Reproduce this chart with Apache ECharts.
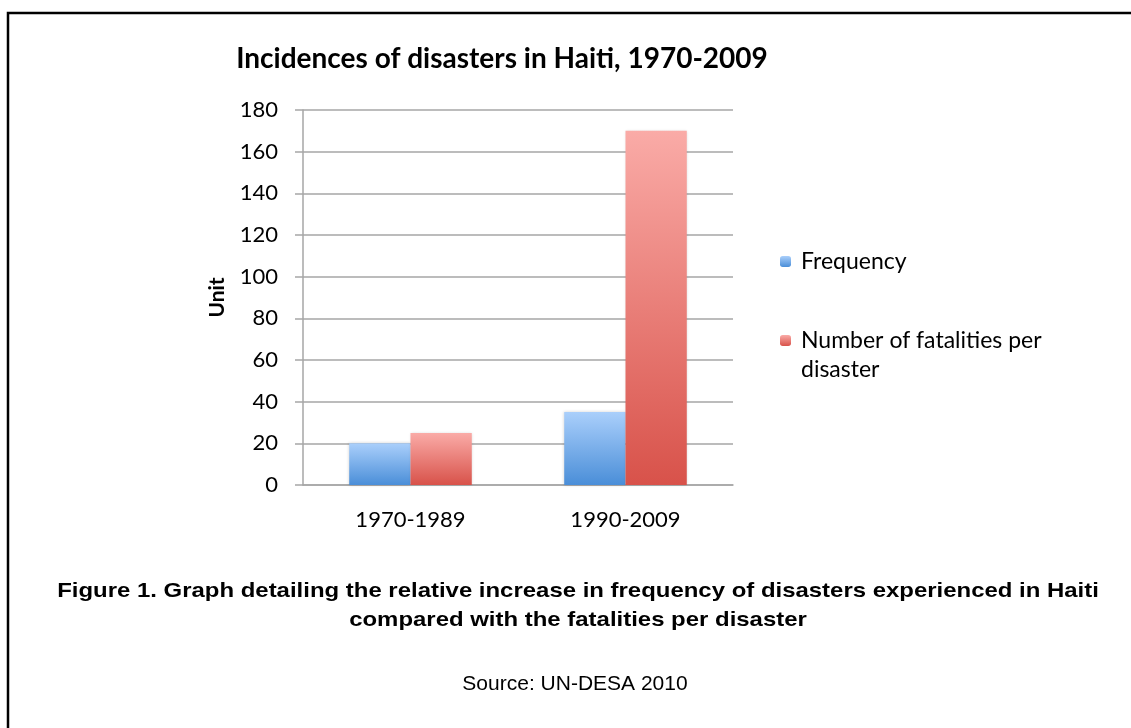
<!DOCTYPE html>
<html>
<head>
<meta charset="utf-8">
<script src="https://cdn.jsdelivr.net/npm/echarts@6/dist/echarts.min.js"></script>
<style>
  html, body { margin: 0; padding: 0; background: #fff; }
  #chart { width: 1131px; height: 728px; }
</style>
</head>
<body>
<div id="chart"></div>
<script>
// data
const periods = ['1970-1989', '1990-2009'];
const frequency = [20, 35];
const fatalitiesPerDisaster = [25, 170];
const seriesNames = ['Frequency', 'Number of fatalities per disaster'];

const chart = echarts.init(document.getElementById('chart'), null, { renderer: 'canvas' });

// vertical gradient like the old Excel bars
function barGradient(top, bottom) {
    return new echarts.graphic.LinearGradient(0, 0, 0, 1, [
        { offset: 0, color: top },
        { offset: 1, color: bottom }
    ]);
}

const calibri = 'Lato, "Open Sans", sans-serif';
const arial = '"Liberation Sans", Arial, sans-serif';

const option = {
    animation: false,
    backgroundColor: '#fff',
    title: {
        text: 'Incidences of disasters in Haiti, 1970-2009',
        left: 497,
        top: 40,
        textAlign: 'center',
        textStyle: { fontFamily: calibri, fontWeight: 'bold', fontSize: 28, color: '#000' }
    },
    legend: [
        {
            data: [seriesNames[0]],
            left: 775,
            top: 245,
            itemWidth: 11,
            itemHeight: 11,
            textStyle: { fontFamily: calibri, fontSize: 23, color: '#000', padding: [0, 0, 0, 5] }
        },
        {
            data: [seriesNames[1]],
            left: 775,
            top: 292,
            itemWidth: 11,
            itemHeight: 11,
            // empty first line keeps the icon level with the first text line
            formatter: () => '\nNumber of fatalities per\ndisaster',
            textStyle: { fontFamily: calibri, fontSize: 23, color: '#000', lineHeight: 29, padding: [0, 0, 0, 5] }
        }
    ],
    grid: { left: 303, right: 398, top: 110, bottom: 243 },
    xAxis: {
        type: 'category',
        data: periods,
        axisLine: { lineStyle: { color: '#a6a6a6', width: 1.5 } },
        axisTick: { show: false },
        axisLabel: { fontFamily: calibri, fontSize: 22, color: '#000', margin: 24 }
    },
    yAxis: {
        type: 'value',
        min: 0,
        max: 180,
        interval: 20,
        name: 'Unit',
        nameLocation: 'middle',
        nameRotate: 90,
        nameGap: 75,
        nameTextStyle: { fontFamily: calibri, fontWeight: 'bold', fontSize: 21, color: '#000' },
        axisLine: { show: true, lineStyle: { color: '#a6a6a6', width: 1.5 } },
        axisTick: { show: true, length: 8, lineStyle: { color: '#a6a6a6', width: 1.5 } },
        axisLabel: { fontFamily: calibri, fontSize: 22, color: '#000', margin: 25 },
        splitLine: { lineStyle: { color: '#a6a6a6', width: 1.5 } }
    },
    series: [
        {
            name: seriesNames[0],
            type: 'bar',
            data: frequency,
            barGap: '0%',
            barCategoryGap: '43%',
            itemStyle: {
                color: barGradient('#aacffb', '#4a8ed8'),
                shadowBlur: 3,
                shadowColor: 'rgba(0,0,0,0.18)'
            }
        },
        {
            name: seriesNames[1],
            type: 'bar',
            data: fatalitiesPerDisaster,
            itemStyle: {
                color: barGradient('#faaba7', '#d8524a'),
                shadowBlur: 3,
                shadowColor: 'rgba(0,0,0,0.18)'
            }
        }
    ],
    graphic: [
        {
            type: 'rect',
            shape: { x: 8, y: 13, width: 1300, height: 900 },
            style: { fill: 'none', stroke: '#000', lineWidth: 2.5 },
            silent: true
        },
        {
            type: 'text',
            x: 578,
            y: 606,
            scaleX: 1.14,
            style: {
                text: 'Figure 1. Graph detailing the relative increase in frequency of disasters experienced in Haiti\ncompared with the fatalities per disaster',
                font: 'bold 21px ' + arial,
                fill: '#000',
                align: 'center',
                verticalAlign: 'middle',
                lineHeight: 29
            }
        },
        {
            type: 'text',
            x: 575,
            y: 684,
            style: {
                text: 'Source: UN-DESA 2010',
                font: '21px ' + arial,
                fill: '#000',
                align: 'center',
                verticalAlign: 'middle'
            }
        }
    ]
};

chart.setOption(option);
</script>
</body>
</html>
